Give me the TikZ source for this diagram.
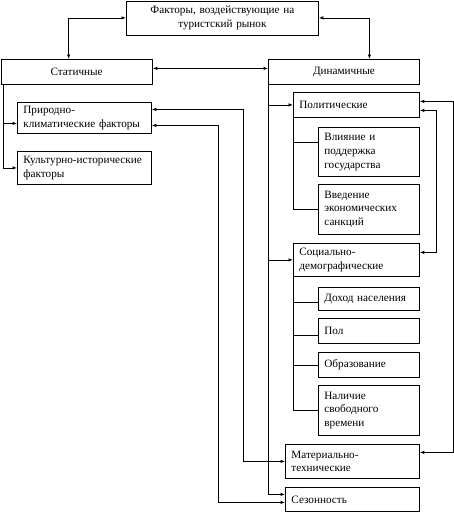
\documentclass[tikz,border=0pt]{standalone}
\usepackage{fontspec}
\setmainfont{Liberation Serif}
\usetikzlibrary{calc,arrows.meta}
\begin{document}
\begin{tikzpicture}[x=1pt,y=-1pt, line width=0.8pt,
  >={Latex[length=4.5pt,width=3.5pt]},
  box/.style={draw, anchor=north west, inner xsep=6pt, inner ysep=1pt, align=left,
    font=\fontsize{11.2}{13.7}\selectfont},
  cbox/.style={box, align=center}]
\useasboundingbox (0,0) rectangle (454,512);
% boxes
\node[cbox, minimum width=192pt, text width=180pt, minimum height=34pt] (top) at (126,0.5) {Факторы, воздействующие на\\туристский рынок};
\node[cbox, minimum width=151.5pt, text width=139pt, minimum height=25pt] (stat) at (0.5,59) {Статичные};
\node[cbox, minimum width=151pt, text width=139pt, minimum height=25pt] (dyn) at (268,59) {Динамичные};
\node[box, minimum width=134pt, text width=122pt, minimum height=31pt] (prir) at (17,102) {Природно-\\климатические факторы};
\node[box, minimum width=134pt, text width=122pt, minimum height=33pt] (kult) at (17,151) {Культурно-исторические\\факторы};
\node[box, minimum width=126pt, text width=114pt, minimum height=25pt] (pol) at (293,92) {Политические};
\node[box, minimum width=101pt, text width=89pt, minimum height=49pt] (vliy) at (318,127) {Влияние и\\поддержка\\государства};
\node[box, minimum width=101pt, text width=89pt, minimum height=50pt] (vved) at (318,184) {Введение\\экономических\\санкций};
\node[box, minimum width=126pt, text width=114pt, minimum height=33pt] (soc) at (293,243) {Социально-\\демографические};
\node[box, minimum width=101pt, text width=89pt, minimum height=23pt] (doh) at (318,287) {Доход населения};
\node[box, minimum width=101pt, text width=89pt, minimum height=25pt] (pl) at (318,318) {Пол};
\node[box, minimum width=101pt, text width=89pt, minimum height=25pt] (obr) at (318,352) {Образование};
\node[box, minimum width=101pt, text width=89pt, minimum height=50pt] (nal) at (318,385) {Наличие\\свободного\\времени};
\node[box, minimum width=134pt, text width=122pt, minimum height=34pt] (mat) at (285,444) {Материально-\\технические};
\node[box, minimum width=134pt, text width=122pt, minimum height=24pt] (sez) at (285,487) {Сезонность};
% top connections
\draw[<->] (top.west) -| ([xshift=-8pt]stat.north);
\draw[<->] (top.east) -| ([xshift=25.5pt]dyn.north);
\draw[<->] ([yshift=3.5pt]stat.east) -- ([yshift=3.5pt]dyn.west);
% left trunk
\coordinate (lt) at ($(stat.south west)+(2.5,0)$);
\draw[->] (lt) |- (kult.west);
\draw[->] ([yshift=-5.5pt]prir.west -| lt) -- ([yshift=-5.5pt]prir.west);
% right trunk
\coordinate (rt) at ($(dyn.south west)+(0.5,0)$);
\draw[->] (rt) |- ([yshift=5pt]sez.west);
\draw[->] (pol.west -| rt) -- (pol.west);
\draw[->] (soc.west -| rt) -- (soc.west);
% political sub-items
\draw (pol.south west) |- (vved.west);
\draw ([yshift=9.5pt]vliy.west -| pol.south west) -- ([yshift=9.5pt]vliy.west);
% social sub-items
\draw (soc.south west) |- (nal.west);
\draw ([yshift=-3pt]doh.west -| soc.south west) -- ([yshift=-3pt]doh.west);
\draw ([yshift=-4.5pt]pl.west -| soc.south west) -- ([yshift=-4.5pt]pl.west);
\draw (obr.west -| soc.south west) -- (obr.west);
% feedback right
\draw[<->] ([yshift=-5.5pt]pol.east) -- ++(17,0) |- ([yshift=7.5pt]soc.east);
\draw[<->] ([yshift=3.5pt]pol.east) -- ++(33.5,0) |- ([yshift=9pt]mat.east);
% feedback left
\draw[<->] ([yshift=8.5pt]prir.east) -- ++(92,0) |- (mat.west);
\draw[<->] ([yshift=-7.5pt]prir.east) -- ++(67,0) |- ([yshift=-3pt]sez.west);
\end{tikzpicture}
\end{document}
